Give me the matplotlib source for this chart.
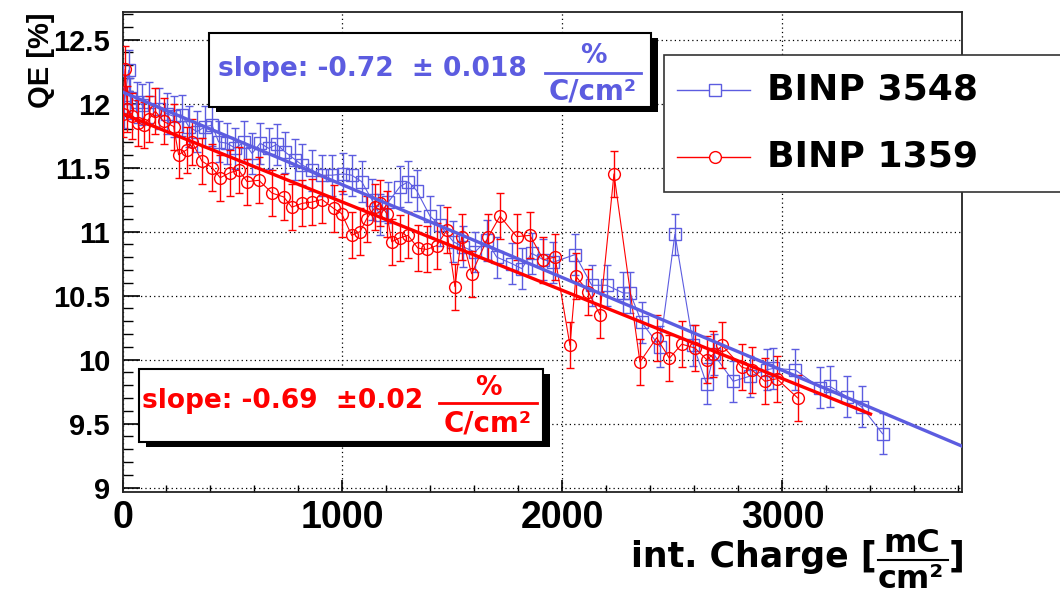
import matplotlib
matplotlib.use("Agg")
import matplotlib.pyplot as plt
from matplotlib.patches import Rectangle
from matplotlib.lines import Line2D
from matplotlib.ticker import MultipleLocator

plt.rcParams['font.family'] = ['Liberation Sans', 'DejaVu Sans']
plt.rcParams['font.weight'] = 'bold'
WIDE = ['DejaVu Sans', 'Liberation Sans']

# ---------------- data ----------------
blue_x = [5, 28, 36, 66, 89, 119, 164, 202, 233, 270, 301, 339, 376, 407, 437, 475, 513, 551,
          589, 626, 664, 702, 740, 786, 816, 861, 907, 952, 1004, 1042, 1087, 1133, 1170, 1208,
          1261, 1299, 1337, 1398, 1443, 1504, 1549, 1602, 1655, 1701, 1769, 1815, 1860, 1913,
          1958, 2057, 2133, 2201, 2276, 2307, 2360, 2443, 2511, 2595, 2655, 2688, 2776, 2852,
          2928, 2958, 3057, 3170, 3216, 3292, 3360, 3455]
blue_y = [11.97, 12.26, 12.04, 12.01, 11.99, 12.01, 11.96, 11.92, 11.90, 11.91, 11.82, 11.78,
          11.82, 11.83, 11.70, 11.69, 11.65, 11.70, 11.61, 11.69, 11.65, 11.68, 11.62, 11.56,
          11.52, 11.48, 11.44, 11.44, 11.45, 11.44, 11.39, 11.25, 11.13, 11.23, 11.35, 11.39,
          11.32, 11.12, 11.05, 10.92, 10.88, 10.84, 10.93, 10.80, 10.75, 10.71, 10.83, 10.78,
          10.76, 10.82, 10.58, 10.58, 10.52, 10.52, 10.29, 10.10, 10.98, 10.11, 9.81, 10.04,
          9.83, 9.87, 9.92, 9.93, 9.92, 9.78, 9.79, 9.71, 9.63, 9.42]
blue_err = 0.16

red_x = [0, 12, 22, 43, 70, 96, 120, 149, 187, 233, 255, 293, 316, 361, 407, 444, 489, 528,
         566, 620, 680, 733, 770, 816, 861, 907, 960, 996, 1042, 1080, 1110, 1148, 1170, 1201,
         1224, 1260, 1298, 1343, 1383, 1428, 1474, 1511, 1542, 1587, 1663, 1716, 1792, 1852,
         1913, 1966, 2034, 2061, 2117, 2170, 2234, 2352, 2428, 2486, 2542, 2602, 2655, 2685,
         2726, 2815, 2860, 2920, 2974, 3069]
red_y = [11.92, 12.27, 11.96, 11.90, 11.85, 11.83, 11.88, 11.94, 11.86, 11.82, 11.60, 11.64,
         11.70, 11.55, 11.50, 11.42, 11.46, 11.48, 11.39, 11.40, 11.30, 11.27, 11.19, 11.22,
         11.23, 11.25, 11.18, 11.14, 10.97, 11.00, 11.10, 11.19, 11.22, 11.14, 10.92, 10.95,
         10.97, 10.87, 10.86, 10.89, 11.01, 10.57, 10.96, 10.67, 10.96, 11.12, 10.96, 10.97,
         10.78, 10.80, 10.11, 10.65, 10.53, 10.35, 11.45, 9.98, 10.17, 10.01, 10.12, 10.09,
         10.00, 10.04, 10.11, 9.94, 9.92, 9.83, 9.85, 9.70]
red_err = 0.18

# linear fits (QE = a + b * charge[C/cm2])
blue_fit_a, blue_fit_b, blue_fit_range = 12.09, -0.725, (0, 3816)
red_fit_a, red_fit_b, red_fit_range = 11.92, -0.69, (0, 3400)

labels = ["BINP 3548", "BINP 1359"]
x_ticks = [0, 1000, 2000, 3000]
y_ticks = [9, 9.5, 10, 10.5, 11, 11.5, 12, 12.5]

BLUE = '#5c5ce0'
RED = '#ff0000'

W, H = 1060, 595
fig = plt.figure(figsize=(W / 100, H / 100), dpi=100)
L, R, T, B = 122.5, 962, 12, 492
ax = fig.add_axes([L / W, 1 - B / H, (R - L) / W, (B - T) / H])

def fx(x):
    return x / W

def fy(y):
    return 1 - y / H

ax.errorbar(blue_x, blue_y, yerr=blue_err, fmt='-s', color=BLUE, mfc='none', mec=BLUE,
            ms=8, mew=1.0, lw=0.8, elinewidth=1.0, capsize=3, capthick=1.0, zorder=3)
ax.errorbar(red_x, red_y, yerr=red_err, fmt='-o', color=RED, mfc='none', mec=RED,
            ms=8.5, mew=1.0, lw=0.8, elinewidth=1.0, capsize=3, capthick=1.0, zorder=4)

bx = list(blue_fit_range)
ax.plot(bx, [blue_fit_a + blue_fit_b * v / 1000 for v in bx], color=BLUE, lw=2.4, zorder=5)
rx = list(red_fit_range)
ax.plot(rx, [red_fit_a + red_fit_b * v / 1000 for v in rx], color=RED, lw=2.4, zorder=6)

ax.set_xlim(0, 3816)
ax.set_ylim(8.965, 12.715)
ax.set_xticks(x_ticks)
ax.set_yticks(y_ticks)
ax.set_yticklabels([('%g' % v) for v in y_ticks])
ax.xaxis.set_minor_locator(MultipleLocator(200))
ax.yaxis.set_minor_locator(MultipleLocator(0.1))
ax.tick_params(axis='y', which='major', direction='in', length=12, width=1.2,
               labelsize=21, pad=9)
ax.tick_params(axis='y', which='minor', direction='in', length=7, width=1.0)
ax.tick_params(axis='x', which='major', direction='in', length=9, width=1.2,
               labelsize=27, pad=6)
ax.tick_params(axis='x', which='minor', direction='in', length=5, width=1.0)
for lab in ax.get_xticklabels() + ax.get_yticklabels():
    lab.set_fontweight('bold')
ax.grid(True, which='major', color='black', linestyle=(0, (1, 2.5)), lw=0.9)
for s in ax.spines.values():
    s.set_linewidth(1.3)
    s.set_color('#222222')

ax.set_ylabel('QE [%]', fontsize=21, fontweight='bold', loc='top')
ax.yaxis.set_label_coords(-0.080, 1.0)

# x axis label with fraction
fig.text(fx(877), fy(557), 'int. Charge [', fontsize=25, fontweight='bold', family=WIDE,
         ha='right', va='center')
fig.text(fx(912), fy(543), 'mC', fontsize=23, fontweight='bold', family=WIDE,
         ha='center', va='center')
fig.add_artist(Line2D([fx(878), fx(948)], [fy(560), fy(560)], color='black', lw=1.5))
fig.text(fx(911), fy(580), 'cm²', fontsize=23, fontweight='bold', family=WIDE,
         ha='center', va='center')
fig.text(fx(949), fy(557), ']', fontsize=25, fontweight='bold', family=WIDE,
         ha='left', va='center')

def pave(x0, y0, x1, y1, shadow=True, lw=1.5, ec='black'):
    if shadow:
        fig.add_artist(Rectangle((fx(x0 + 7), fy(y1 + 5)), fx(x1 - x0), (y1 - y0) / H,
                                 transform=fig.transFigure, facecolor='black',
                                 edgecolor='none', zorder=10))
    fig.add_artist(Rectangle((fx(x0), fy(y1)), fx(x1 - x0), (y1 - y0) / H,
                             transform=fig.transFigure, facecolor='white',
                             edgecolor=ec, lw=lw, zorder=11))

# blue slope box
pave(209, 33, 651, 107)
fig.text(fx(218), fy(69), 'slope: -0.72  ± 0.018', fontsize=19, fontweight='bold',
         family=WIDE, color=BLUE, ha='left', va='center', zorder=12)
fig.text(fx(593), fy(56), '%', fontsize=19, fontweight='bold', family=WIDE, color=BLUE,
         ha='center', va='center', zorder=12)
fig.add_artist(Line2D([fx(545), fx(641)], [fy(73), fy(73)], color=BLUE, lw=2, zorder=12))
fig.text(fx(593), fy(91), 'C/cm²', fontsize=20, fontweight='bold', family=WIDE, color=BLUE,
         ha='center', va='center', zorder=12)

# red slope box
pave(139, 369, 543, 442)
fig.text(fx(142), fy(401), 'slope: -0.69  ±0.02', fontsize=19, fontweight='bold',
         family=WIDE, color=RED, ha='left', va='center', zorder=12)
fig.text(fx(488), fy(388), '%', fontsize=19, fontweight='bold', family=WIDE, color=RED,
         ha='center', va='center', zorder=12)
fig.add_artist(Line2D([fx(439), fx(537)], [fy(403), fy(403)], color=RED, lw=2, zorder=12))
fig.text(fx(488), fy(423), 'C/cm²', fontsize=20, fontweight='bold', family=WIDE, color=RED,
         ha='center', va='center', zorder=12)

# legend
pave(664, 55, 1075, 192, shadow=False, lw=1.2, ec='#333333')
for yy, col, mk, ms, lab in [(90, BLUE, 's', 8, labels[0]), (157, RED, 'o', 8.5, labels[1])]:
    fig.add_artist(Line2D([fx(677), fx(750)], [fy(yy), fy(yy)], color=col, lw=1.0, zorder=12))
    fig.add_artist(Line2D([fx(715)], [fy(yy)], color=col, marker=mk, ms=ms, mfc='white',
                          mec=col, mew=1.0, zorder=13))
    fig.text(fx(767), fy(yy), lab, fontsize=26, fontweight='bold', family=WIDE,
             ha='left', va='center', zorder=13)

fig.savefig('out.png', dpi=100)
